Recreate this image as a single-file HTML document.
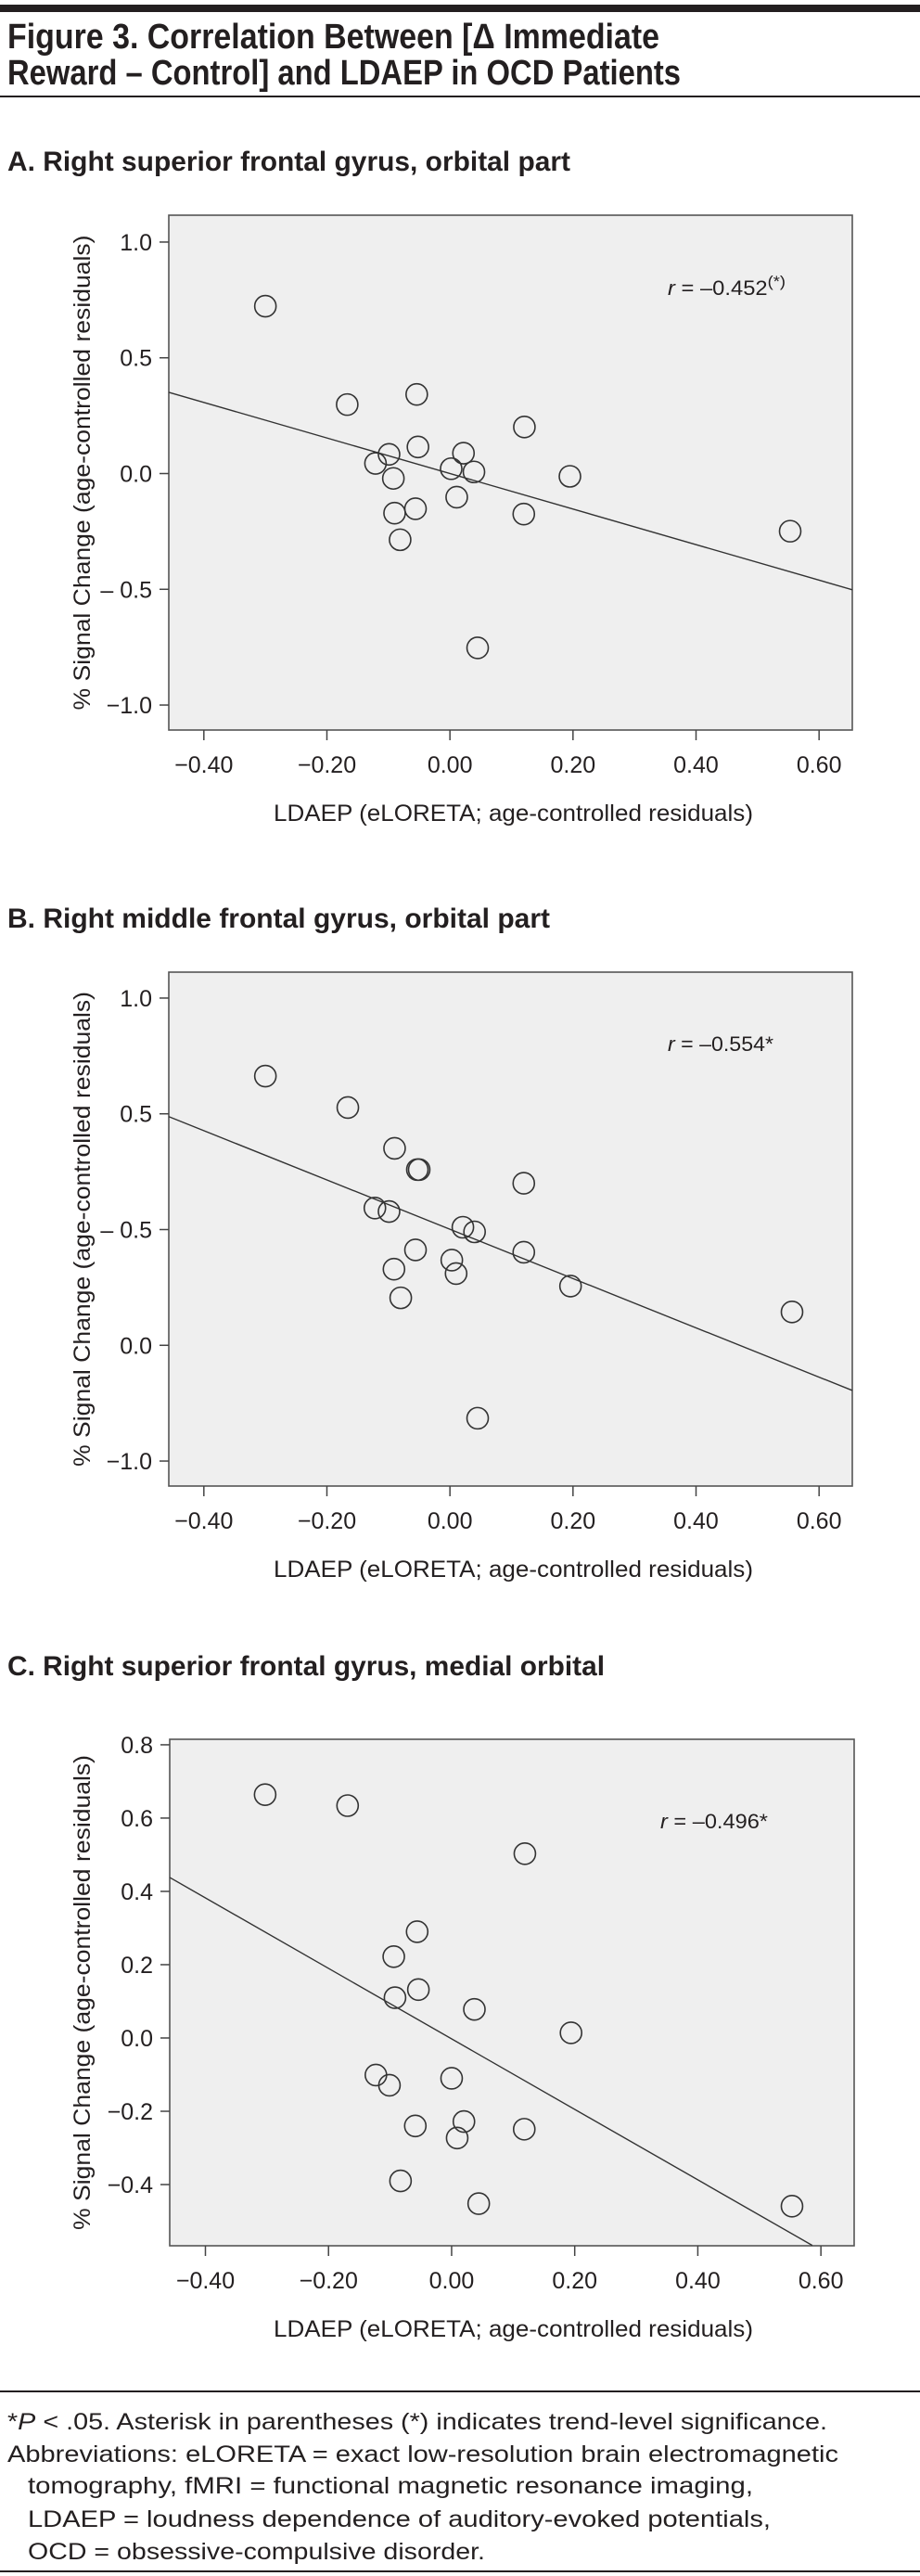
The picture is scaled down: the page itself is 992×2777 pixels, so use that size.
<!DOCTYPE html>
<html><head><meta charset="utf-8"><style>
html,body{margin:0;padding:0;background:#fff;}
svg{display:block;}
text{font-family:"Liberation Sans",sans-serif;fill:#231f20;}
</style></head><body>
<svg id="fig" width="992" height="2777" viewBox="0 0 992 2777" xmlns="http://www.w3.org/2000/svg">
<rect x="0" y="5" width="992" height="8" fill="#231f20"/>
<text x="8" y="52" font-size="38" font-weight="bold" textLength="703" lengthAdjust="spacingAndGlyphs">Figure 3. Correlation Between [Δ Immediate</text>
<text x="8" y="91" font-size="38" font-weight="bold" textLength="726" lengthAdjust="spacingAndGlyphs">Reward – Control] and LDAEP in OCD Patients</text>
<rect x="0" y="103" width="992" height="2" fill="#231f20"/>
<text x="8" y="184" font-size="30" font-weight="bold" textLength="607" lengthAdjust="spacingAndGlyphs">A. Right superior frontal gyrus, orbital part</text>
<text x="8" y="1000" font-size="30" font-weight="bold" textLength="585" lengthAdjust="spacingAndGlyphs">B. Right middle frontal gyrus, orbital part</text>
<text x="8" y="1806" font-size="30" font-weight="bold" textLength="644" lengthAdjust="spacingAndGlyphs">C. Right superior frontal gyrus, medial orbital</text>
<g id="panels"></g>
<rect x="0" y="2577" width="992" height="2" fill="#231f20"/>
<text x="8" y="2619" font-size="25" textLength="884" lengthAdjust="spacingAndGlyphs">*<tspan font-style="italic">P</tspan> &lt; .05. Asterisk in parentheses (*) indicates trend-level significance.</text>
<text x="8" y="2654" font-size="25" textLength="896" lengthAdjust="spacingAndGlyphs">Abbreviations: eLORETA = exact low-resolution brain electromagnetic</text>
<text x="30" y="2688" font-size="25" textLength="782" lengthAdjust="spacingAndGlyphs">tomography, fMRI = functional magnetic resonance imaging,</text>
<text x="30" y="2724" font-size="25" textLength="801" lengthAdjust="spacingAndGlyphs">LDAEP = loudness dependence of auditory-evoked potentials,</text>
<text x="30" y="2759" font-size="25" textLength="493" lengthAdjust="spacingAndGlyphs">OCD = obsessive-compulsive disorder.</text>
<rect x="0" y="2771" width="992" height="2" fill="#231f20"/>
</svg>
<script>
// shared x axis
const xTicks = [-0.4, -0.2, 0.0, 0.2, 0.4, 0.6];
const xTickLabels = ["\u22120.40", "\u22120.20", "0.00", "0.20", "0.40", "0.60"];

// Panel A
const aX = [-0.30,-0.167,-0.054,-0.052,-0.099,-0.121,-0.092,-0.090,-0.056,-0.081,0.002,0.022,0.039,0.011,0.121,0.120,0.195,0.553,0.045];
const aY = [0.723,0.298,0.342,0.115,0.083,0.044,-0.021,-0.171,-0.152,-0.286,0.021,0.088,0.007,-0.102,0.201,-0.175,-0.012,-0.249,-0.753];
const aFitX = [-0.457, 0.654];
const aFitY = [0.351, -0.502];
const aYTicks = [1.0, 0.5, 0.0, -0.5, -1.0];
const aYTickLabels = ["1.0", "0.5", "0.0", "\u2013 0.5", "\u22121.0"];
const aR = "r = \u20130.452";
const aRSup = "(*)";

// Panel B
const bX = [-0.30,-0.166,-0.090,-0.053,-0.050,0.120,-0.122,-0.099,0.021,0.040,-0.056,0.003,0.010,0.120,-0.091,-0.080,0.196,0.556,0.045];
const bY = [0.663,0.527,0.351,0.259,0.259,0.200,0.093,0.078,0.010,-0.010,-0.088,-0.132,-0.190,-0.098,-0.171,-0.295,-0.244,-0.356,-0.815];
const bFitX = [-0.457, 0.654];
const bFitY = [0.488, -0.695];
const bYTicks = [1.0, 0.5, 0.0, -0.5, -1.0];
const bYTickLabels = ["1.0", "0.5", "\u2013 0.5", "0.0", "\u22121.0"];
const bR = "r = \u20130.554*";
const bRSup = "";

// Panel C
const cX = [-0.303,-0.169,0.119,-0.056,-0.094,-0.054,-0.092,0.037,0.194,-0.123,-0.101,0.0,-0.059,0.020,0.009,0.118,-0.083,0.044,0.553];
const cY = [0.664,0.634,0.503,0.290,0.222,0.132,0.110,0.078,0.014,-0.101,-0.129,-0.110,-0.240,-0.228,-0.273,-0.249,-0.390,-0.452,-0.459];
const cFitX = [-0.458, 0.586];
const cFitY = [0.438, -0.566];
const cYTicks = [0.8, 0.6, 0.4, 0.2, 0.0, -0.2, -0.4];
const cYTickLabels = ["0.8", "0.6", "0.4", "0.2", "0.0", "\u22120.2", "\u22120.4"];
const cR = "r = \u20130.496*";
const cRSup = "";

const NS = "http://www.w3.org/2000/svg";
const root = document.getElementById("panels");
function mk(tag, attrs, parent) {
  const e = document.createElementNS(NS, tag);
  for (const k in attrs) e.setAttribute(k, attrs[k]);
  parent.appendChild(e);
  return e;
}

function drawPanel(id, box, xDom, yDom, xs, ys, fx, fy, yTicks, yLabels, rText, rSup, rPos, rLen) {
  const g = mk("g", {}, root);
  
  
  const L = box[0], T = box[1], R = box[2], B = box[3];
  const sx = v => L + (v - xDom[0]) / (xDom[1] - xDom[0]) * (R - L);
  const sy = v => T + (yDom[0] - v) / (yDom[0] - yDom[1]) * (B - T);
  const bg = mk("rect", {x: L, y: T, width: R - L, height: B - T, fill: "#efefef", stroke: "#555", "stroke-width": 1.6}, g);
  
  
  // y ticks
  yTicks.forEach((v, i) => {
    const y = sy(v);
    const t = mk("line", {x1: L - 10, x2: L, y1: y, y2: y, stroke: "#444", "stroke-width": 1.5}, g);
    
    
    const lb = mk("text", {x: L - 18, y: y + 9, "font-size": 25, "text-anchor": "end"}, g);
    lb.textContent = yLabels[i];
    
    
  });
  // x ticks
  xTicks.forEach((v, i) => {
    const x = sx(v);
    const t = mk("line", {x1: x, x2: x, y1: B, y2: B + 11, stroke: "#444", "stroke-width": 1.5}, g);
    
    
    const lb = mk("text", {x: x, y: B + 46, "font-size": 25, "text-anchor": "middle"}, g);
    lb.textContent = xTickLabels[i];
    
    
  });
  // titles
  const xt = mk("text", {x: 295, y: B + 98, "font-size": 25, textLength: 517, lengthAdjust: "spacingAndGlyphs"}, g);
  xt.textContent = "LDAEP (eLORETA; age-controlled residuals)";
  
  
  const cy = (T + B) / 2;
  const yt = mk("text", {x: 0, y: 0, "font-size": 25, "text-anchor": "middle", textLength: 512, lengthAdjust: "spacingAndGlyphs", transform: "translate(97," + cy + ") rotate(-90)"}, g);
  yt.textContent = "% Signal Change (age-controlled residuals)";
  
  
  // fit line
  const fl = mk("line", {x1: sx(fx[0]), y1: sy(fy[0]), x2: sx(fx[1]), y2: sy(fy[1]), stroke: "#333", "stroke-width": 1.4}, g);
  
  
  // points
  xs.forEach((v, i) => {
    const c = mk("circle", {cx: sx(v), cy: sy(ys[i]), r: 11.5, fill: "none", stroke: "#333", "stroke-width": 1.6}, g);
    
    
  });
  // r annotation
  const rt = mk("text", {x: rPos[0], y: rPos[1], "font-size": 22, textLength: rLen, lengthAdjust: "spacingAndGlyphs"}, g);
  const it = mk("tspan", {"font-style": "italic"}, rt);
  it.textContent = "r";
  const rest = mk("tspan", {}, rt);
  rest.textContent = rText.slice(1);
  if (rSup) {
    const s = mk("tspan", {dy: -9, "font-size": 17}, rt);
    s.textContent = rSup;
  }
  
  
}

drawPanel("a", [182, 232, 919, 787], [-0.457, 0.654], [1.116, -1.108], aX, aY, aFitX, aFitY, aYTicks, aYTickLabels, aR, aRSup, [720, 318], 127);
drawPanel("b", [182, 1048, 919, 1602], [-0.457, 0.654], [1.112, -1.108], bX, bY, bFitX, bFitY, bYTicks, bYTickLabels, bR, bRSup, [720, 1133], 114);
drawPanel("c", [183, 1875, 921, 2421], [-0.458, 0.654], [0.815, -0.567], cX, cY, cFitX, cFitY, cYTicks, cYTickLabels, cR, cRSup, [712, 1971], 116);
</script>
</body></html>
